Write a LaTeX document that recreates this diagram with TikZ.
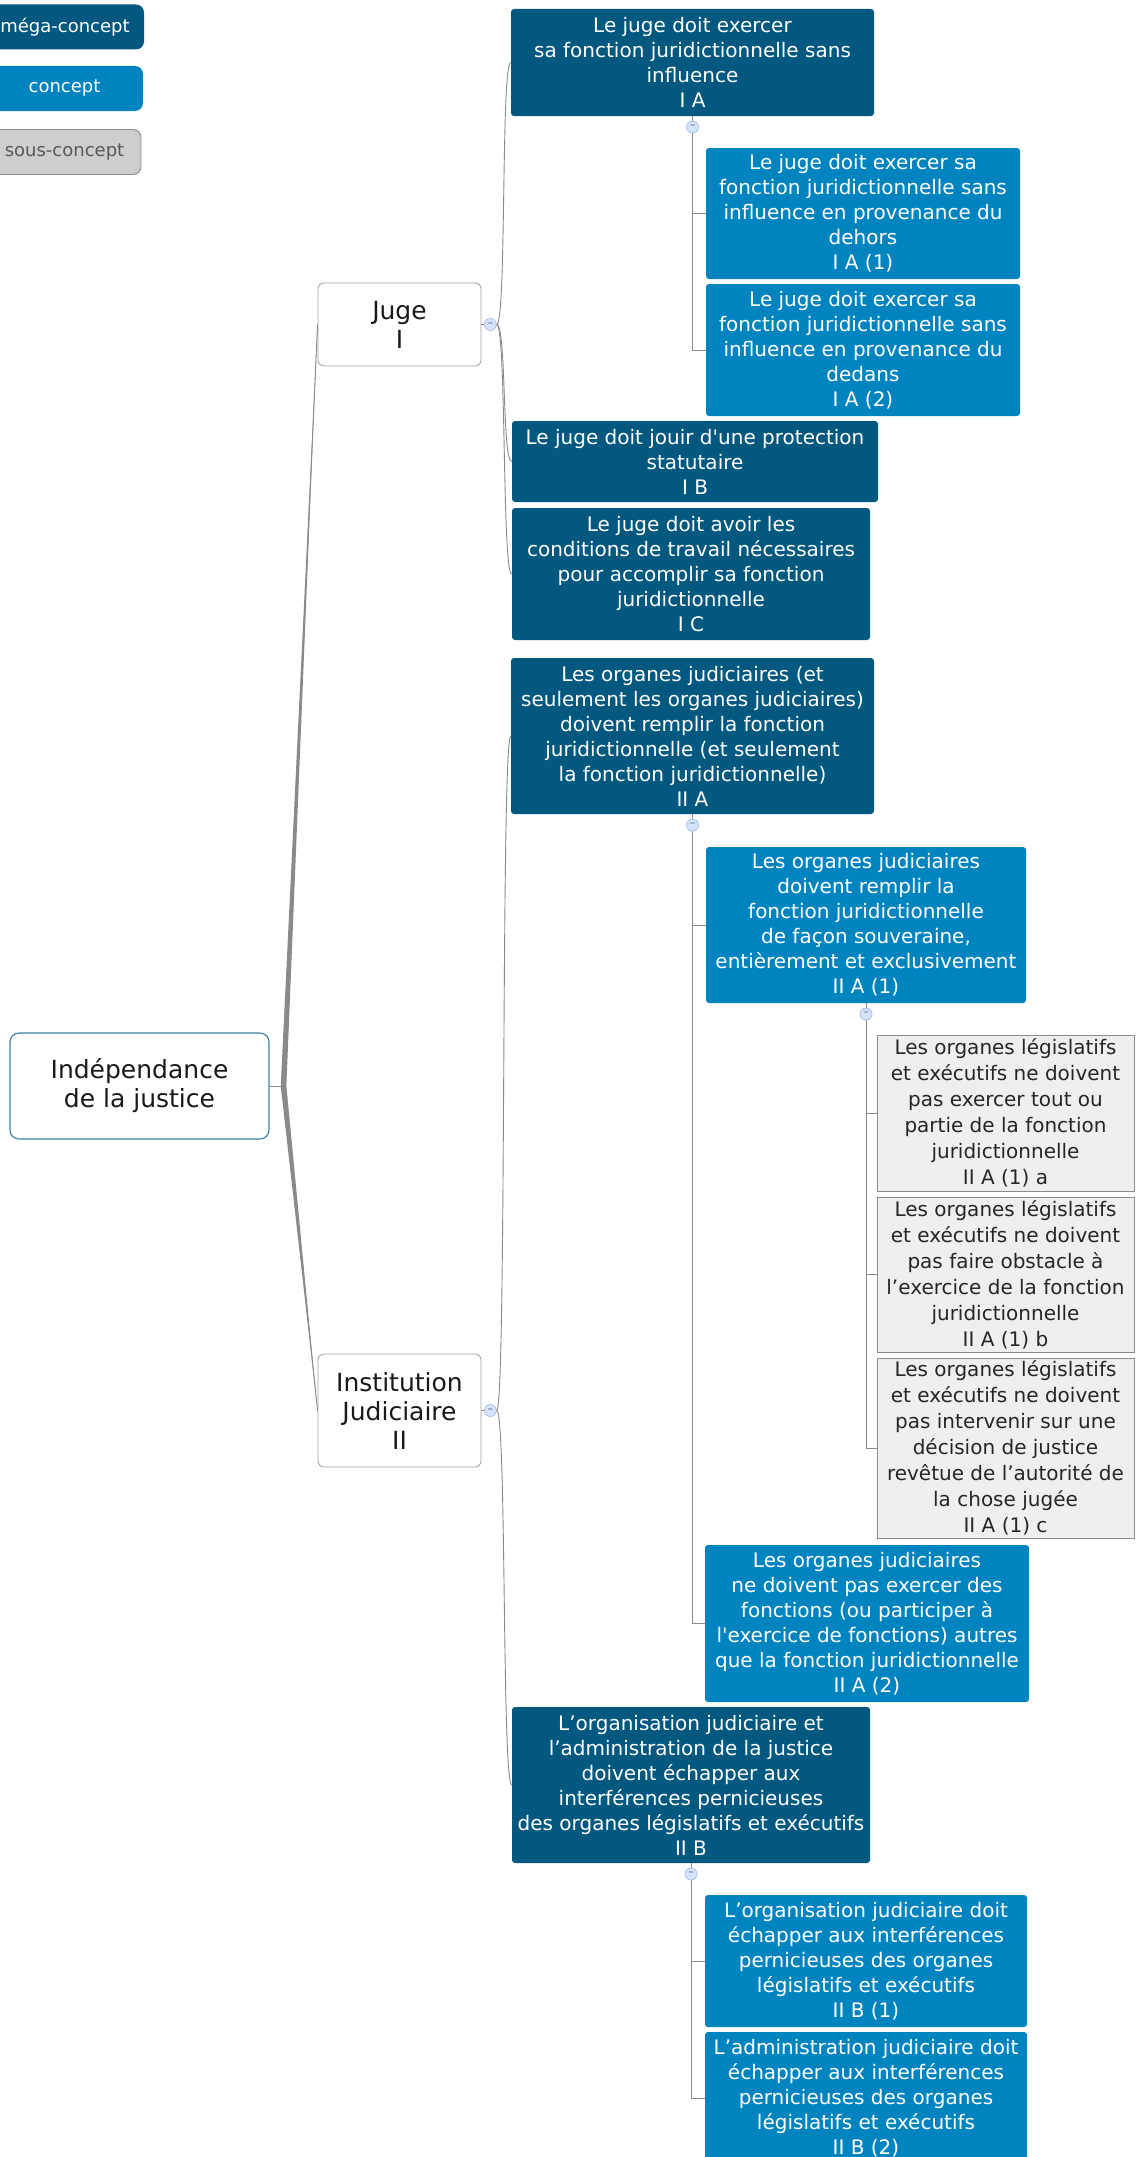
\documentclass[tikz,border=0pt]{standalone}
\usepackage{fontspec}
\setmainfont{DejaVu Sans}[Ligatures=TeXOff]
\usepackage{xcolor}
\usetikzlibrary{positioning,calc}

\definecolor{megablue}{HTML}{02587F}
\definecolor{conceptblue}{HTML}{0084C0}
\definecolor{sousfill}{HTML}{EFEFEF}
\definecolor{sousedge}{HTML}{8C8C8C}
\definecolor{legsous}{HTML}{CECECE}
\definecolor{linkgray}{HTML}{8A8A8A}
\definecolor{rootedge}{HTML}{3B7FA8}
\definecolor{btnfill}{HTML}{D6E4FB}
\definecolor{btnedge}{HTML}{A4BCEB}

\begin{document}
\begin{tikzpicture}[x=1pt,y=-1pt,
  txt/.style={font=\fontsize{20}{25}\selectfont,align=center,inner sep=0pt},
  mega/.style={txt,fill=megablue,text=white,rounded corners=3},
  concept/.style={txt,fill=conceptblue,text=white,rounded corners=3},
  sous/.style={txt,fill=sousfill,draw=sousedge,line width=0.9,text=black!85,font=\fontsize{20}{26}\selectfont},
  topic/.style={txt,draw=gray!70,fill=white,rounded corners=6,line width=0.9,text=black!90,font=\fontsize{25}{29}\selectfont},
  legend/.style={font=\fontsize{18}{20}\selectfont,rounded corners=8,minimum height=45},
  btn/.style={circle,draw=btnedge,fill=btnfill,minimum size=12,inner sep=0pt,line width=0.7,text=btnedge!55!black,font=\fontsize{11}{11}\selectfont},
  link/.style={draw=linkgray,line width=0.9}]
  \useasboundingbox (0,0) rectangle (1136,2157);

  % legende
  \node[mega,legend,minimum width=158] (lmega) at (65,27) {méga-concept};
  \node[concept,legend,minimum width=157] (lconcept) at (64.5,88.5) {concept};
  \node[txt,legend,fill=legsous,draw=sousedge,line width=0.9,text=black!65,minimum width=153] (lsous) at (64.5,152) {sous-concept};

  % racine et themes
  \node[topic,draw=rootedge,rounded corners=9,line width=1.1,minimum width=259,minimum height=106] (root) at (139.5,1086) {Indépendance\\de la justice};
  \node[topic,minimum width=163,minimum height=83] (juge) at (399.5,324.5) {Juge\\I};
  \node[topic,minimum width=163,minimum height=113] (inst) at (399.5,1410.5) {Institution\\Judiciaire\\II};

  % I
  \node[mega,minimum width=363,minimum height=107] (ia) at (692.5,62.5) {Le juge doit exercer\\sa fonction juridictionnelle sans\\influence\\I A};
  \node[concept,minimum width=314,minimum height=131] (ia1) at (863,213.5) {Le juge doit exercer sa\\fonction juridictionnelle sans\\influence en provenance du\\dehors\\I A (1)};
  \node[concept,minimum width=314,minimum height=132] (ia2) at (863,350) {Le juge doit exercer sa\\fonction juridictionnelle sans\\influence en provenance du\\dedans\\I A (2)};
  \node[mega,minimum width=366,minimum height=81] (ib) at (695,461.5) {Le juge doit jouir d'une protection\\statutaire\\I B};
  \node[mega,minimum width=358,minimum height=132] (ic) at (691,574) {Le juge doit avoir les\\conditions de travail nécessaires\\pour accomplir sa fonction\\juridictionnelle\\I C};

  % II
  \node[mega,minimum width=363,minimum height=156] (iia) at (692.5,736) {Les organes judiciaires (et\\seulement les organes judiciaires)\\doivent remplir la fonction\\juridictionnelle (et seulement\\la fonction juridictionnelle)\\II A};
  \node[concept,minimum width=320,minimum height=156] (iia1) at (866,925) {Les organes judiciaires\\doivent remplir la\\fonction juridictionnelle\\de façon souveraine,\\entièrement et exclusivement\\II A (1)};
  \node[sous,minimum width=257,minimum height=156] (iiaa) at (1005.5,1113) {Les organes législatifs\\et exécutifs ne doivent\\pas exercer tout ou\\partie de la fonction\\juridictionnelle\\II A (1) a};
  \node[sous,minimum width=257,minimum height=155] (iiab) at (1005.5,1274.5) {Les organes législatifs\\et exécutifs ne doivent\\pas faire obstacle à\\l’exercice de la fonction\\juridictionnelle\\II A (1) b};
  \node[sous,minimum width=257,minimum height=180] (iiac) at (1005.5,1448) {Les organes législatifs\\et exécutifs ne doivent\\pas intervenir sur une\\décision de justice\\revêtue de l’autorité de\\la chose jugée\\II A (1) c};
  \node[concept,minimum width=324,minimum height=157] (iia2) at (867,1623.5) {Les organes judiciaires\\ne doivent pas exercer des\\fonctions (ou participer à\\l'exercice de fonctions) autres\\que la fonction juridictionnelle\\II A (2)};
  \node[mega,minimum width=358,minimum height=156] (iib) at (691,1785) {L’organisation judiciaire et\\l’administration de la justice\\doivent échapper aux\\interférences pernicieuses\\des organes législatifs et exécutifs\\II B};
  \node[concept,minimum width=322,minimum height=132] (iib1) at (866,1961) {L’organisation judiciaire doit\\échapper aux interférences\\pernicieuses des organes\\législatifs et exécutifs\\II B (1)};
  \node[concept,minimum width=322,minimum height=133] (iib2) at (866,2098.5) {L’administration judiciaire doit\\échapper aux interférences\\pernicieuses des organes\\législatifs et exécutifs\\II B (2)};

  % boutons
  \node[btn,right=2.5pt of juge] (bjuge) {–};
  \node[btn,right=2.5pt of inst] (binst) {–};
  \node[btn,below=4.5pt of ia] (bia) {–};
  \node[btn,below=4.5pt of iia] (biia) {–};
  \node[btn,below=4.5pt of iia1] (biia1) {–};
  \node[btn,below=4.5pt of iib] (biib) {–};

  % liens
  \coordinate (hub) at ($(root.east)+(14,0)$);
  \draw[link] (root) -- (hub);
  \foreach \c in {juge,inst} {
    \fill[linkgray] ($(hub)+(-2.8,0)$) -- (\c.west) -- ($(hub)+(2.8,0)$) -- cycle;
    \draw[link] (hub) -- (\c.west);
  }
  \draw[link] (juge) -- (bjuge);
  \draw[link] (inst) -- (binst);
  \foreach \c in {ia,ib,ic}
    \draw[link] (bjuge.east) .. controls +(10,0) and +(-10,0) .. (\c.west);
  \foreach \c in {iia,iib}
    \draw[link] (binst.east) .. controls +(10,0) and +(-10,0) .. (\c.west);
  \draw[link] (ia) -- (bia);
  \draw[link] (iia) -- (biia);
  \draw[link] (iia1) -- (biia1);
  \draw[link] (iib) -- (biib);
  \foreach \c in {ia1,ia2}
    \draw[link] (bia.south) |- (\c.west);
  \foreach \c in {iia1,iia2}
    \draw[link] (biia.south) |- (\c.west);
  \foreach \c in {iiaa,iiab,iiac}
    \draw[link] (biia1.south) |- (\c.west);
  \foreach \c in {iib1,iib2}
    \draw[link] (biib.south) |- (\c.west);
\end{tikzpicture}
\end{document}
